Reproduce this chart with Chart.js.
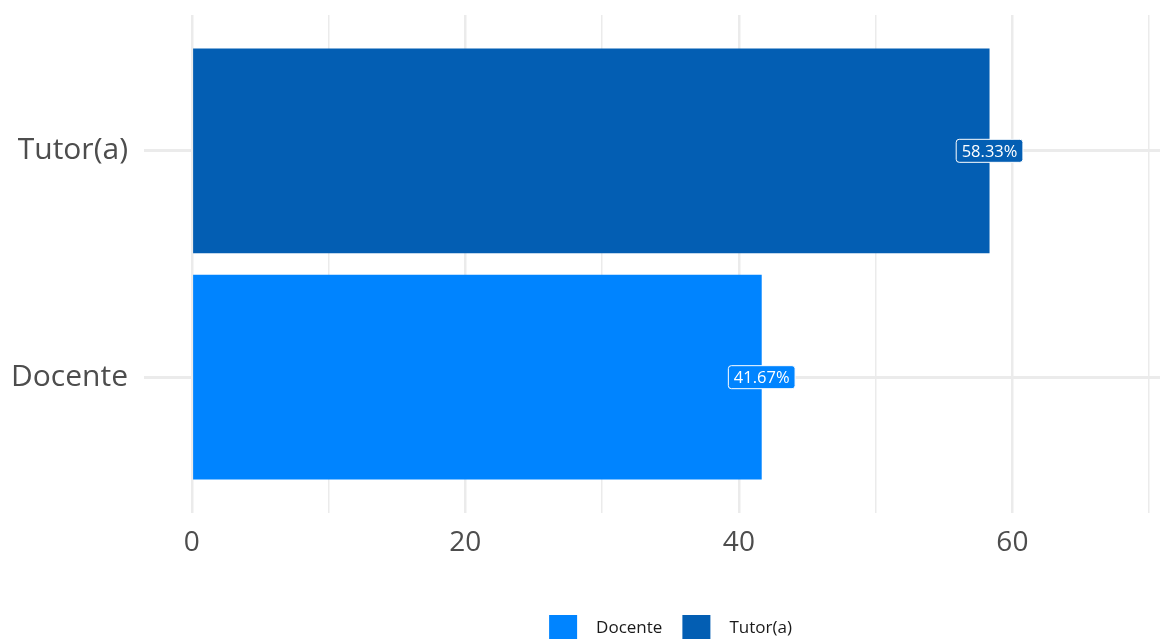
<!DOCTYPE html>
<html>
<head>
<meta charset="utf-8">
<script src="https://cdn.jsdelivr.net/npm/chart.js@4"></script>
<style>
  html, body { margin: 0; padding: 0; background: #fff; overflow: hidden; }
  .wrap { width: 1200px; height: 639px; }
</style>
</head>
<body>
<div class="wrap"><canvas class="js-chart"></canvas></div>
<script>
const categories = ['Docente', 'Tutor(a)']
const shares = [41.67, 58.33]
const colors = ['#0084FF', '#035EB3']
const xTicks = [0, 10, 20, 30, 40, 50, 60, 70]
const xLabels = { 0: '0', 20: '20', 40: '40', 60: '60' }

document.addEventListener('DOMContentLoaded', () => {
    const ctx = document.querySelector('.js-chart')
    const font = '"Open Sans", sans-serif'

    // value boxes at the end of each bar
    const endLabels = {
        id: 'endLabels',
        afterDatasetsDraw(chart) {
            const c = chart.ctx
            const xs = chart.scales.x
            const ys = chart.scales.y
            c.save()
            c.font = '16.5px ' + font
            c.textAlign = 'center'
            c.textBaseline = 'middle'
            shares.forEach((v, i) => {
                const txt = v.toFixed(2) + '%'
                const px = xs.getPixelForValue(v)
                const py = ys.getPixelForValue(i + 1)
                const w = c.measureText(txt).width + 11
                const h = 23
                c.beginPath()
                c.roundRect(px - w / 2, py - h / 2, w, h, 3)
                c.fillStyle = colors[i]
                c.fill()
                c.lineWidth = 1
                c.strokeStyle = '#ffffff'
                c.stroke()
                c.fillStyle = '#ffffff'
                c.fillText(txt, px, py + 1)
            })
            c.restore()
        }
    }

    // ggplot-like legend centred under the panel
    const bottomLegend = {
        id: 'bottomLegend',
        afterDraw(chart) {
            const c = chart.ctx
            const area = chart.chartArea
            const boxW = 28, boxH = 24, gap = 19, itemGap = 20
            c.save()
            c.font = '17px ' + font
            c.textBaseline = 'middle'
            const widths = categories.map(t => boxW + gap + c.measureText(t).width)
            const total = widths.reduce((a, b) => a + b, 0) + itemGap * (categories.length - 1)
            let x = (area.left + area.right) / 2 - total / 2
            const y = 615
            categories.forEach((t, i) => {
                c.fillStyle = colors[i]
                c.fillRect(x, y, boxW, boxH)
                c.fillStyle = '#1a1a1a'
                c.fillText(t, x + boxW + gap, y + boxH / 2 + 1)
                x += widths[i] + itemGap
            })
            c.restore()
        }
    }

    new Chart(ctx, {
        type: 'bar',
        data: {
            datasets: categories.map((name, i) => ({
                label: name,
                data: [{ x: shares[i], y: i + 1 }],
                backgroundColor: colors[i],
                borderWidth: 0,
                grouped: false,
                categoryPercentage: 1,
                barPercentage: 0.905
            }))
        },
        options: {
            indexAxis: 'y',
            responsive: true,
            maintainAspectRatio: false,
            animation: false,
            layout: { padding: { top: 15, right: 3, left: 0, bottom: 30 } },
            scales: {
                x: {
                    type: 'linear',
                    min: -3.5,
                    max: 73.5,
                    afterBuildTicks: (s) => { s.ticks = xTicks.map(v => ({ value: v })) },
                    afterFit: (s) => { s.height = 96; s.paddingLeft = 0; s.paddingRight = 0 },
                    grid: {
                        color: '#ebebeb',
                        lineWidth: (c) => (c.tick && c.tick.value % 20 === 0 ? 2.5 : 1.5),
                        drawTicks: false
                    },
                    border: { display: false },
                    ticks: {
                        padding: 13,
                        color: '#4d4d4d',
                        font: { family: font, size: 28 },
                        callback: (v) => (xLabels[v] !== undefined ? xLabels[v] : '')
                    }
                },
                y: {
                    type: 'linear',
                    min: 0.4,
                    max: 2.6,
                    offset: false,
                    afterBuildTicks: (s) => { s.ticks = categories.map((c, i) => ({ value: i + 1 })) },
                    afterFit: (s) => { s.width = 144; s.paddingTop = 0; s.paddingBottom = 0 },
                    grid: { color: '#ebebeb', lineWidth: 3, drawTicks: false, offset: false },
                    border: { display: false },
                    ticks: {
                        padding: 16,
                        color: '#4d4d4d',
                        font: { family: font, size: 30 },
                        callback: (v) => categories[v - 1] || ''
                    }
                }
            },
            plugins: {
                legend: { display: false },
                tooltip: { enabled: false }
            }
        },
        plugins: [endLabels, bottomLegend]
    })
})
</script>
</body>
</html>
